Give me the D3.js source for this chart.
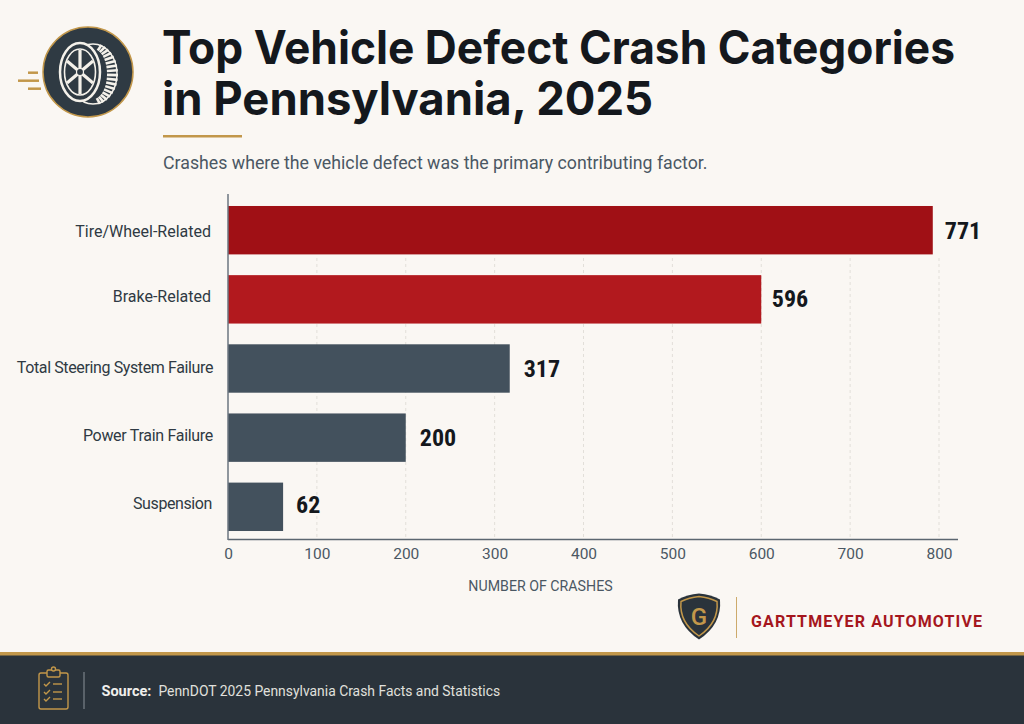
<!DOCTYPE html>
<html>
<head>
<meta charset="utf-8">
<script src="https://cdn.jsdelivr.net/npm/d3@7"></script>
<style>
  html, body { margin: 0; padding: 0; background: #faf7f3; }
  svg { display: block; }
  text { font-family: Roboto, "Liberation Sans", sans-serif; }
</style>
</head>
<body>
<div id="chart"></div>
<script>
const categories = ["Tire/Wheel-Related", "Brake-Related", "Total Steering System Failure", "Power Train Failure", "Suspension"];
const valueLabels = [771, 596, 317, 200, 62];
// bar lengths as drawn in the picture, on the axis units (top two don't quite agree with their printed labels)
const barLengths = [793, 600, 317, 200, 62];
const xTicks = [0, 100, 200, 300, 400, 500, 600, 700, 800];
const titleLines = ["Top Vehicle Defect Crash Categories", "in Pennsylvania, 2025"];
const subtitle = "Crashes where the vehicle defect was the primary contributing factor.";
const axisTitle = "NUMBER OF CRASHES";
const brand = "GARTTMEYER AUTOMOTIVE";

const width = 1024, height = 724;
const gold = "#c2974a", navy = "#2a333b", cream = "#f4f1ea";
const color = d3.scaleOrdinal(categories, ["#a01015", "#b2191e", "#43515d", "#43515d", "#43515d"]);

const svg = d3.select("#chart").append("svg").attr("width", width).attr("height", height).attr("viewBox", [0, 0, width, height]);
svg.append("rect").attr("width", width).attr("height", height).attr("fill", "#faf7f3");

// header
svg.append("g").selectAll("text").data(titleLines).join("text")
  .attr("x", 162).attr("y", (d, i) => 64 + i * 51)
  .attr("textLength", (d, i) => i ? 491 : 793).attr("lengthAdjust", "spacingAndGlyphs")
  .style("font-family", "Inter, sans-serif").attr("font-size", 46).attr("font-weight", 700).attr("fill", "#14181d")
  .text(d => d);
svg.append("rect").attr("x", 163).attr("y", 135).attr("width", 79).attr("height", 2.5).attr("fill", gold);
svg.append("text").attr("x", 163).attr("y", 169).attr("font-size", 17.75).attr("fill", "#4b5763").text(subtitle);

// tire icon
const tire = svg.append("g").attr("transform", "translate(88,72)");
tire.append("circle").attr("r", 45).attr("fill", "#2f3a43").attr("stroke", gold).attr("stroke-width", 1.5);
tire.append("ellipse").attr("cx", 5).attr("cy", 2).attr("rx", 24).attr("ry", 30).attr("fill", "none").attr("stroke", cream).attr("stroke-width", 1.5);
d3.range(-70, 80, 9).forEach(a => {
  const r = a * Math.PI / 180;
  tire.append("line")
    .attr("x1", 5 + 14 * Math.cos(r)).attr("y1", 2 + 25 * Math.sin(r))
    .attr("x2", 5 + 25 * Math.cos(r)).attr("y2", 2 + 31 * Math.sin(r))
    .attr("stroke", cream).attr("stroke-width", 2.6);
});
tire.append("ellipse").attr("cx", -8).attr("cy", 0).attr("rx", 20).attr("ry", 29).attr("fill", "#2f3a43").attr("stroke", cream).attr("stroke-width", 2.5);
tire.append("ellipse").attr("cx", -8).attr("cy", 0).attr("rx", 15.5).attr("ry", 23).attr("fill", "none").attr("stroke", cream).attr("stroke-width", 1.6);
d3.range(6).forEach(i => {
  const a = i * Math.PI / 3 + Math.PI / 6;
  tire.append("line").attr("x1", -8).attr("y1", 0)
    .attr("x2", -8 + 15 * Math.cos(a)).attr("y2", 22 * Math.sin(a))
    .attr("stroke", cream).attr("stroke-width", 3.2);
});
tire.append("circle").attr("cx", -8).attr("cy", 0).attr("r", 3.5).attr("fill", "#2f3a43").attr("stroke", cream).attr("stroke-width", 1.2);
svg.append("g").attr("stroke", gold).attr("stroke-width", 2.5)
  .selectAll("line").data([[28, 38, 72.7], [18, 39, 80.7], [28, 41, 88.7]]).join("line")
  .attr("x1", d => d[0]).attr("x2", d => d[1]).attr("y1", d => d[2]).attr("y2", d => d[2]);

// chart
const x = d3.scaleLinear().domain([0, 800]).range([228, 939]);
const y = d3.scaleBand().domain(categories).range([197, 540]).paddingInner(0.3).paddingOuter(0.13);
const labelShift = [1, -3, -1, -2, -3];
const labelRight = [211, 211, 213, 213, 212];
const labelSpacing = [0, 0, -0.38, -0.3, -0.4];
const valueGap = [12, 10.5, 14, 14, 13];
const valueShift = [9, 7.5, 8, 8, 6];

svg.append("g").selectAll("line").data(xTicks.slice(1)).join("line")
  .attr("x1", d => x(d)).attr("x2", d => x(d)).attr("y1", 258).attr("y2", 539)
  .attr("stroke", "#e2dfd9").attr("stroke-width", 1).attr("stroke-dasharray", "3 3");

svg.append("g").selectAll("rect").data(categories).join("rect")
  .attr("x", x(0)).attr("y", d => y(d))
  .attr("width", (d, i) => x(barLengths[i]) - x(0))
  .attr("height", y.bandwidth())
  .attr("fill", d => color(d));

svg.append("g").selectAll("text").data(categories).join("text")
  .attr("x", (d, i) => x(barLengths[i]) + valueGap[i])
  .attr("y", (d, i) => y(d) + y.bandwidth() / 2 + valueShift[i])
  .attr("font-size", 24).attr("font-weight", 700).attr("fill", "#14181d")
  .style("font-family", "Roboto Condensed, Roboto, sans-serif")
  .text((d, i) => valueLabels[i]);

svg.append("g").selectAll("text").data(categories).join("text")
  .attr("x", (d, i) => labelRight[i]).attr("y", (d, i) => y(d) + y.bandwidth() / 2 + 5.5 + labelShift[i])
  .attr("text-anchor", "end").attr("font-size", 16).attr("fill", "#2f3a43")
  .attr("letter-spacing", (d, i) => labelSpacing[i])
  .text(d => d);

const xAxis = svg.append("g").attr("transform", "translate(0,539.5)")
  .call(d3.axisBottom(x).tickValues(xTicks).tickSize(0).tickPadding(8));
xAxis.select(".domain").attr("stroke", "#5b6670").attr("stroke-width", 1.5).attr("d", "M228,0H958");
xAxis.selectAll("text").attr("font-size", 15.5).attr("fill", "#4b5763").attr("font-family", "Roboto, sans-serif");

svg.append("line").attr("x1", 228).attr("x2", 228).attr("y1", 194).attr("y2", 540).attr("stroke", "#6b7680").attr("stroke-width", 1.5);
svg.append("text").attr("x", 540.5).attr("y", 591).attr("text-anchor", "middle").attr("font-size", 14.2).attr("fill", "#4b5763").text(axisTitle);

// brand
const shield = svg.append("g").attr("transform", "translate(699,616.5)");
shield.append("path").attr("d", "M0,-23 Q12,-22 21,-17 Q23,8 0,23 Q-23,8 -21,-17 Q-12,-22 0,-23Z").attr("fill", navy);
shield.append("path").attr("d", "M0,-20 Q10,-19 18,-15 Q20,6 0,19.5 Q-20,6 -18,-15 Q-10,-19 0,-20Z").attr("fill", "none").attr("stroke", gold).attr("stroke-width", 1.5);
shield.append("text").attr("text-anchor", "middle").attr("y", 8).attr("font-size", 24).attr("font-weight", 500).attr("fill", gold).text("G");
svg.append("line").attr("x1", 736.5).attr("x2", 736.5).attr("y1", 597).attr("y2", 638).attr("stroke", gold).attr("stroke-width", 1).attr("opacity", 0.8);
svg.append("text").attr("x", 751).attr("y", 626.5).attr("font-size", 16).attr("font-weight", 700).attr("letter-spacing", 1.15).attr("fill", "#a5161d").text(brand);

// footer
svg.append("rect").attr("y", 652).attr("width", width).attr("height", 72).attr("fill", navy);
svg.append("rect").attr("y", 652).attr("width", width).attr("height", 3.5).attr("fill", gold);
const clip = svg.append("g").attr("fill", "none").attr("stroke", gold).attr("stroke-width", 1.4);
clip.append("rect").attr("x", 39).attr("y", 673).attr("width", 29).attr("height", 36).attr("rx", 2);
clip.append("rect").attr("x", 47).attr("y", 670).attr("width", 13).attr("height", 7).attr("rx", 1.5).attr("fill", navy);
clip.append("circle").attr("cx", 53.5).attr("cy", 669).attr("r", 2).attr("fill", navy);
[684, 692, 699].forEach(yy => {
  clip.append("path").attr("d", `M44,${yy}l2,2l4,-4`);
  clip.append("line").attr("x1", 53).attr("x2", 62).attr("y1", yy).attr("y2", yy);
});
svg.append("line").attr("x1", 84).attr("x2", 84).attr("y1", 672).attr("y2", 709).attr("stroke", "#7b838a").attr("stroke-width", 1.2);
const src = svg.append("text").attr("x", 101.5).attr("y", 696).attr("font-size", 13.9).attr("fill", "#e0e0dd");
src.append("tspan").attr("font-weight", 700).attr("font-size", 14.5).attr("fill", "#f0efec").text("Source:");
src.append("tspan").attr("dx", 7).text("PennDOT 2025 Pennsylvania Crash Facts and Statistics");
</script>
</body>
</html>
